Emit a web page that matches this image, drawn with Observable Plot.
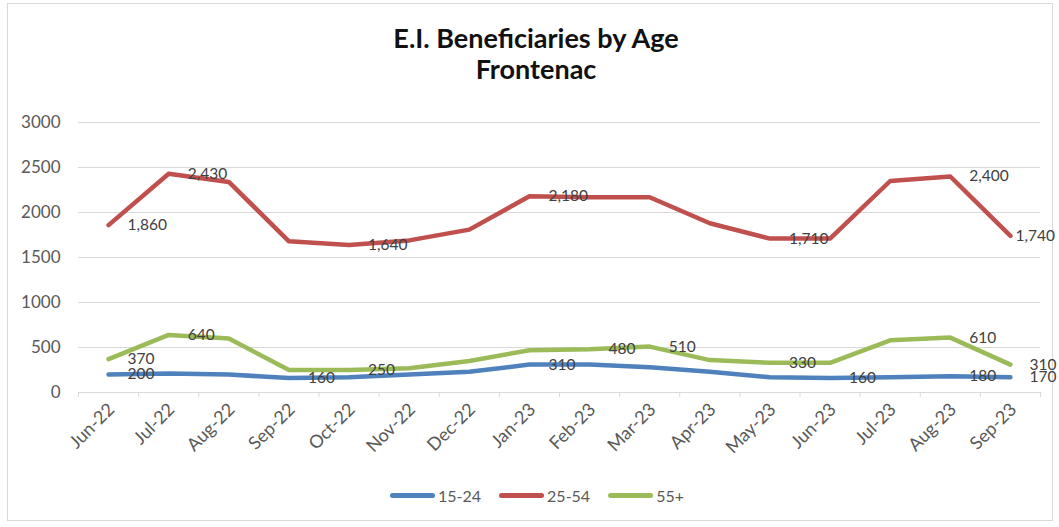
<!DOCTYPE html>
<html><head><meta charset="utf-8">
<script src="https://cdn.jsdelivr.net/npm/d3@7"></script>
<script src="https://cdn.jsdelivr.net/npm/@observablehq/plot@0.6"></script>
<style>
body{margin:0;background:#fff;font-family:Lato,"Open Sans",sans-serif;}
#frame{position:absolute;left:7px;top:3px;width:1046px;height:518px;border:1px solid #d9d9d9;box-sizing:border-box;}
#title{position:absolute;left:236px;width:600px;top:22px;text-align:center;font-weight:bold;font-size:27px;line-height:31px;color:#111;}
#chart{position:absolute;left:0;top:100px;}
#legend{position:absolute;left:390px;top:484px;height:22px;display:flex;align-items:center;font-size:16px;color:#595959;}
.item{display:flex;align-items:center;margin-right:18px;}
.sw{width:45px;height:5px;border-radius:3px;margin-right:3px;}
</style></head>
<body>
<div id="frame"></div>
<div id="title">E.I. Beneficiaries by Age<br>Frontenac</div>
<div id="chart"></div>
<div id="legend"></div>
<script>
const months = ["Jun-22","Jul-22","Aug-22","Sep-22","Oct-22","Nov-22","Dec-22","Jan-23","Feb-23","Mar-23","Apr-23","May-23","Jun-23","Jul-23","Aug-23","Sep-23"];
const seriesNames = ["15-24","25-54","55+"];
const seriesColors = ["#4F81BD","#C0504D","#9BBB59"];
const age15_24 = [200,210,200,160,170,200,230,310,310,280,230,170,160,170,180,170];
const age25_54 = [1860,2430,2340,1680,1640,1690,1810,2180,2170,2170,1880,1710,1710,2350,2400,1740];
const age55plus = [370,640,600,250,250,270,350,470,480,510,360,330,330,580,610,310];
const labeled15_24 = ["Jun-22","Sep-22","Jan-23","Jun-23","Aug-23","Sep-23"];
const labeled25_54 = ["Jun-22","Jul-22","Oct-22","Jan-23","May-23","Aug-23","Sep-23"];
const labeled55plus = ["Jun-22","Jul-22","Oct-22","Feb-23","Mar-23","May-23","Aug-23","Sep-23"];
const yTicks = [0,500,1000,1500,2000,2500,3000];

const seriesValues = [age15_24, age25_54, age55plus];
const seriesLabeled = [labeled15_24, labeled25_54, labeled55plus];
const rows = [];
seriesNames.forEach((name, s) => {
  seriesValues[s].forEach((v, i) => {
    rows.push({i, month: months[i], value: v, series: name, labeled: seriesLabeled[s].includes(months[i])});
  });
});
const last = months.length - 1;
const centers = months.map((_, i) => i);
const bounds = d3.range(months.length + 1).map(i => i - 0.5);
const fmt = d3.format(",");
const labelRows = rows.filter(d => d.labeled);

const chart = Plot.plot({
  width: 1059, height: 370,
  marginTop: 22, marginBottom: 78, marginLeft: 78, marginRight: 19,
  style: {fontFamily: "Lato, 'Open Sans', sans-serif", fontSize: "16px", color: "#595959", background: "transparent"},
  x: {type: "linear", domain: [-0.5, last + 0.5]},
  y: {domain: [0, 3000]},
  color: {domain: seriesNames, range: seriesColors},
  marks: [
    Plot.gridY({ticks: yTicks, stroke: "#d9d9d9", strokeOpacity: 1}),
    Plot.axisY({ticks: yTicks, tickSize: 0, tickPadding: 18, tickFormat: d => String(d), fontSize: 17, label: null}),
    Plot.axisX({ticks: bounds, tickSize: 5, tickFormat: () => "", stroke: "#d9d9d9", strokeOpacity: 1, label: null}),
    Plot.axisX({ticks: centers, tickSize: 0, tickPadding: 14, tickRotate: -45, tickFormat: i => months[i], fontSize: 18, dx: 3, label: null}),
    Plot.line(rows, {x: "i", y: "value", z: "series", stroke: "series", strokeWidth: 4.5, strokeLinecap: "round", strokeLinejoin: "round"}),
    Plot.text(labelRows.filter(d => !(d.series === "25-54" && d.i === last)), {x: "i", y: "value", text: d => fmt(d.value), textAnchor: "start", dx: 19, fill: "#404040", fontSize: 15.5}),
    Plot.text(labelRows.filter(d => d.series === "25-54" && d.i === last), {x: "i", y: "value", text: d => fmt(d.value), textAnchor: "start", dx: 5, fill: "#404040", fontSize: 15.5})
  ]
});
document.getElementById("chart").appendChild(chart);

const legend = document.getElementById("legend");
seriesNames.forEach((name, s) => {
  const item = document.createElement("div");
  item.className = "item";
  const sw = document.createElement("div");
  sw.className = "sw";
  sw.style.background = seriesColors[s];
  const t = document.createElement("span");
  t.textContent = name;
  item.appendChild(sw); item.appendChild(t);
  legend.appendChild(item);
});
</script>
</body></html>
